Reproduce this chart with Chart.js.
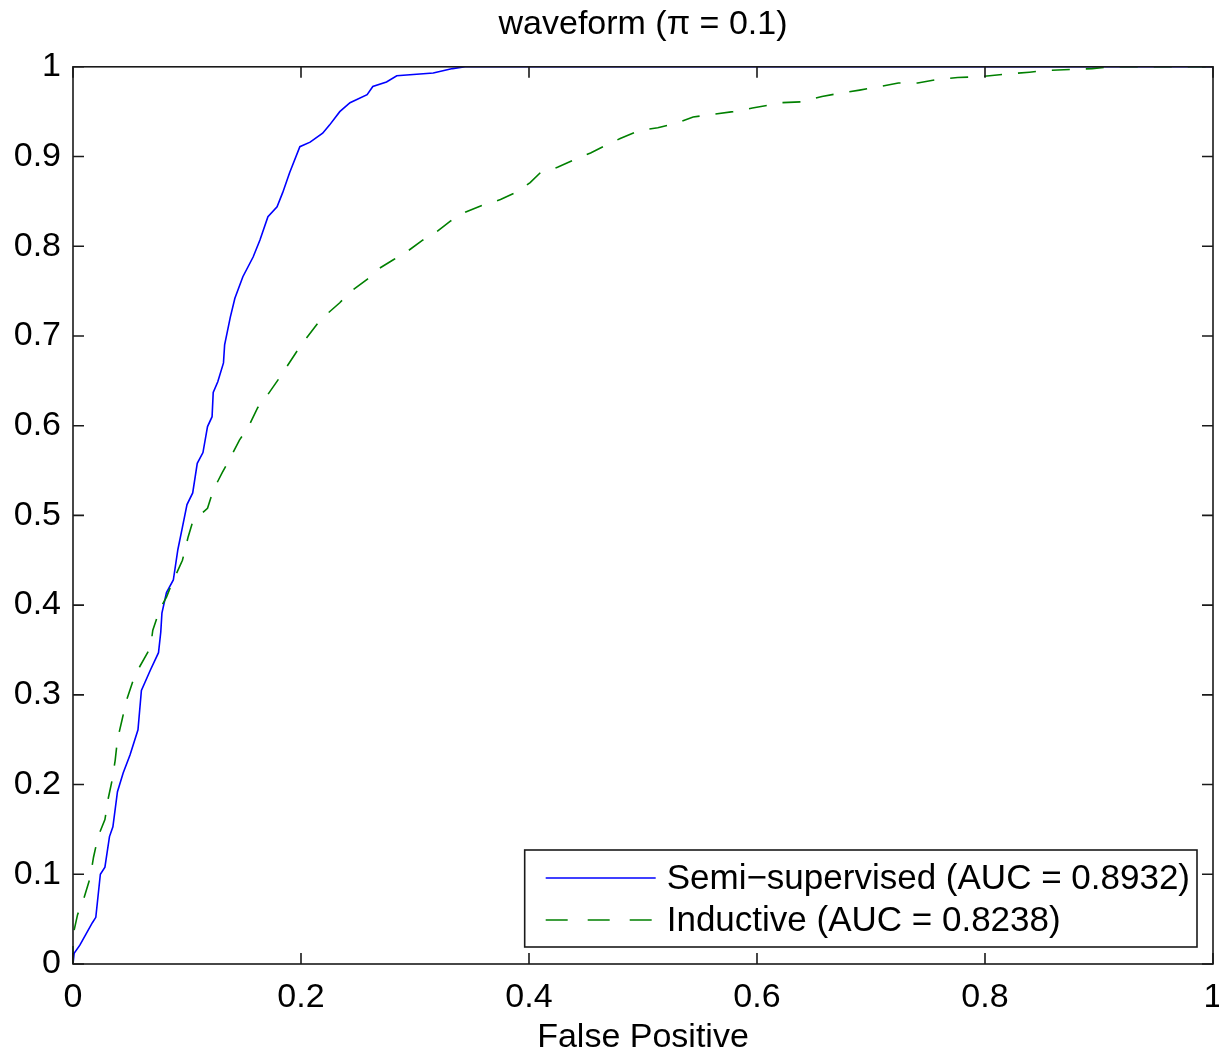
<!DOCTYPE html>
<html lang="en">
<head>
  <meta charset="UTF-8" />
  <title>waveform ROC</title>
  <script src="https://cdn.jsdelivr.net/npm/chart.js"></script>
  <style>
    body { margin: 0; background: #fff; }
    #wrap { width: 1219px; height: 1053px; position: relative; }
  </style>
</head>
<body>
  <div id="wrap"><canvas id="roc"></canvas></div>

  <script>
    // ROC curves (false positive rate, true positive rate)
    const fprSemi = [0, 0.001, 0.006, 0.017, 0.020, 0.024, 0.028, 0.032, 0.035, 0.039, 0.044, 0.050, 0.057, 0.060, 0.068, 0.075, 0.077, 0.078, 0.082, 0.088, 0.092, 0.096, 0.100, 0.105, 0.109, 0.114, 0.118, 0.122, 0.123, 0.127, 0.132, 0.133, 0.138, 0.142, 0.149, 0.158, 0.164, 0.171, 0.179, 0.184, 0.190, 0.199, 0.208, 0.219, 0.225, 0.234, 0.243, 0.258, 0.263, 0.275, 0.284, 0.316, 0.333, 0.344, 1];
    const tprSemi = [0, 0.012, 0.021, 0.046, 0.052, 0.100, 0.108, 0.142, 0.153, 0.192, 0.213, 0.233, 0.261, 0.305, 0.328, 0.347, 0.370, 0.391, 0.414, 0.428, 0.462, 0.487, 0.512, 0.525, 0.558, 0.570, 0.599, 0.610, 0.637, 0.649, 0.670, 0.690, 0.721, 0.742, 0.766, 0.788, 0.807, 0.833, 0.844, 0.860, 0.882, 0.911, 0.916, 0.926, 0.935, 0.950, 0.960, 0.969, 0.978, 0.983, 0.990, 0.993, 0.998, 1, 1];

    const fprInd = [0, 0, 0.004, 0.009, 0.015, 0.018, 0.022, 0.028, 0.031, 0.034, 0.037, 0.039, 0.043, 0.047, 0.053, 0.057, 0.068, 0.070, 0.076, 0.082, 0.087, 0.091, 0.096, 0.101, 0.105, 0.118, 0.123, 0.131, 0.138, 0.146, 0.154, 0.162, 0.170, 0.182, 0.199, 0.217, 0.234, 0.243, 0.258, 0.267, 0.281, 0.293, 0.307, 0.319, 0.331, 0.344, 0.360, 0.375, 0.390, 0.401, 0.410, 0.425, 0.439, 0.454, 0.468, 0.480, 0.497, 0.513, 0.531, 0.544, 0.561, 0.579, 0.596, 0.614, 0.622, 0.640, 0.657, 0.675, 0.690, 0.708, 0.724, 0.741, 0.759, 0.776, 0.794, 0.804, 0.820, 0.839, 0.855, 0.876, 0.894, 0.911, 1];
    const tprInd = [0, 0.032, 0.055, 0.071, 0.096, 0.119, 0.142, 0.161, 0.185, 0.203, 0.227, 0.250, 0.272, 0.294, 0.317, 0.328, 0.353, 0.372, 0.395, 0.409, 0.425, 0.436, 0.450, 0.476, 0.493, 0.508, 0.528, 0.548, 0.564, 0.584, 0.599, 0.620, 0.633, 0.655, 0.688, 0.718, 0.737, 0.749, 0.763, 0.774, 0.785, 0.794, 0.807, 0.816, 0.828, 0.838, 0.846, 0.852, 0.861, 0.871, 0.882, 0.888, 0.896, 0.904, 0.913, 0.920, 0.929, 0.932, 0.938, 0.944, 0.947, 0.950, 0.954, 0.958, 0.960, 0.961, 0.967, 0.971, 0.974, 0.978, 0.982, 0.982, 0.986, 0.988, 0.989, 0.990, 0.992, 0.994, 0.996, 0.997, 0.998, 1, 1];

    const xTicks = [0, 0.2, 0.4, 0.6, 0.8, 1];
    const yTicks = [0, 0.1, 0.2, 0.3, 0.4, 0.5, 0.6, 0.7, 0.8, 0.9, 1];

    const FONT = "'Liberation Sans', Arial, Helvetica, sans-serif";
    Chart.defaults.font.family = FONT;
    Chart.defaults.font.size = 34;
    Chart.defaults.color = '#000';

    const toPoints = (xs, ys) => xs.map((x, i) => ({ x, y: ys[i] }));
    const useTicks = list => scale => { scale.ticks = list.map(v => ({ value: v })); };

    // box round the axes, inward ticks on all four sides, and a matlab style legend
    const matlabFrame = {
      id: 'matlabFrame',
      afterDatasetsDraw(chart) {
        const { ctx, chartArea: a, scales } = chart;
        const tl = 11;
        ctx.save();
        ctx.strokeStyle = '#1a1a1a';
        ctx.lineWidth = 1.6;
        ctx.strokeRect(a.left, a.top, a.right - a.left, a.bottom - a.top);
        ctx.beginPath();
        xTicks.forEach(v => {
          const px = scales.x.getPixelForValue(v);
          ctx.moveTo(px, a.bottom); ctx.lineTo(px, a.bottom - tl);
          ctx.moveTo(px, a.top); ctx.lineTo(px, a.top + tl);
        });
        yTicks.forEach(v => {
          const py = scales.y.getPixelForValue(v);
          ctx.moveTo(a.left, py); ctx.lineTo(a.left + tl, py);
          ctx.moveTo(a.right, py); ctx.lineTo(a.right - tl, py);
        });
        ctx.stroke();

        // legend
        ctx.font = '35px ' + FONT;
        const labels = chart.data.datasets.map(d => d.label);
        const textW = Math.max(...labels.map(t => ctx.measureText(t).width));
        const w = 21 + 110 + 11 + textW + 7;
        const h = 97;
        const right = a.right - 16, bottom = a.bottom - 17;
        const left = right - w, top = bottom - h;
        ctx.fillStyle = '#fff';
        ctx.fillRect(left, top, w, h);
        ctx.strokeStyle = '#1a1a1a';
        ctx.lineWidth = 1.6;
        ctx.strokeRect(left, top, w, h);
        chart.data.datasets.forEach((d, i) => {
          const y = top + 28 + i * 42;
          ctx.beginPath();
          ctx.strokeStyle = d.borderColor;
          ctx.lineWidth = 1.6;
          ctx.setLineDash(d.borderDash ? [22, 20] : []);
          ctx.moveTo(left + 21, y);
          ctx.lineTo(left + 131, y);
          ctx.stroke();
          ctx.setLineDash([]);
          ctx.fillStyle = '#000';
          ctx.textBaseline = 'middle';
          ctx.textAlign = 'left';
          ctx.fillText(d.label, left + 142, y + 1);
        });
        ctx.restore();
      }
    };

    new Chart(document.getElementById('roc'), {
      type: 'line',
      data: {
        datasets: [
          {
            label: 'Semi\u2212supervised (AUC = 0.8932)',
            data: toPoints(fprSemi, tprSemi),
            borderColor: '#0000ff',
            borderWidth: 1.6,
            order: 1
          },
          {
            label: 'Inductive (AUC = 0.8238)',
            data: toPoints(fprInd, tprInd),
            borderColor: '#008000',
            borderWidth: 1.6,
            borderDash: [18, 16],
            order: 0
          }
        ]
      },
      options: {
        responsive: true,
        maintainAspectRatio: false,
        animation: false,
        layout: { padding: { left: 0, right: 6, top: 0, bottom: 0 } },
        elements: { point: { radius: 0 }, line: { tension: 0 } },
        datasets: { line: { clip: 4 } },
        plugins: {
          legend: { display: false },
          tooltip: { enabled: false },
          title: {
            display: true,
            text: 'waveform (\u03c0 = 0.1)',
            fullSize: false,
            font: { size: 34, weight: 'normal' },
            padding: { top: 4, bottom: 22 }
          }
        },
        scales: {
          x: {
            type: 'linear',
            min: 0,
            max: 1,
            afterBuildTicks: useTicks(xTicks),
            afterFit: s => { s.height = 89; s.paddingLeft = 0; s.paddingRight = 0; },
            grid: { display: false },
            border: { display: false },
            ticks: { padding: 5, callback: v => String(v) },
            title: { display: true, text: 'False Positive', padding: { top: 0, bottom: -5 }, font: { size: 34 } }
          },
          y: {
            min: 0,
            max: 1,
            afterBuildTicks: useTicks(yTicks),
            afterFit: s => { s.width = 73; s.paddingTop = 0; s.paddingBottom = 0; },
            grid: { display: false },
            border: { display: false },
            ticks: { padding: 4, callback: v => String(v) }
          }
        }
      },
      plugins: [matlabFrame]
    });
  </script>
</body>
</html>
